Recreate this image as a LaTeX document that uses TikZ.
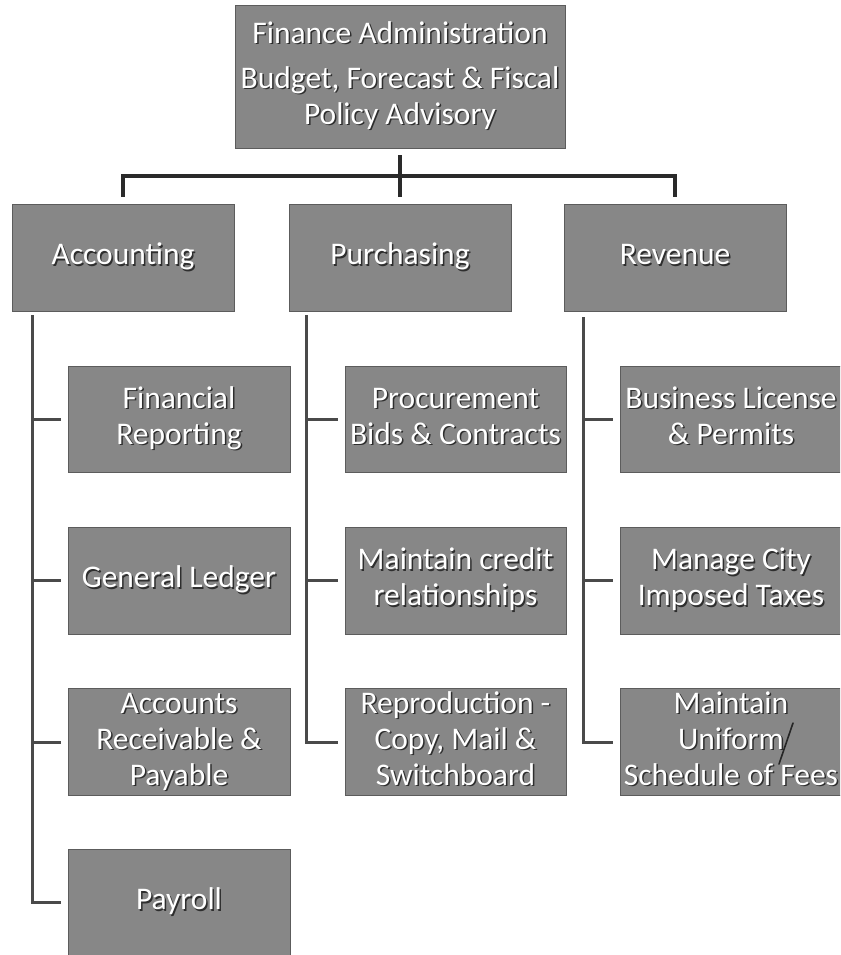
\documentclass[tikz,border=0pt]{standalone}
\usepackage{fontspec}
\setmainfont{Carlito}
\usetikzlibrary{calc}

\definecolor{boxgray}{HTML}{878787}
\definecolor{boxedge}{HTML}{5C5C5C}
\definecolor{txtshadow}{HTML}{2E2E2E}
\definecolor{linegray}{HTML}{4A4A4A}
\definecolor{buslinegray}{HTML}{2A2A2A}

\tikzset{
  orgfill/.style={rectangle, fill=boxgray, draw=boxedge, line width=0.9pt,
    inner sep=0pt, outer sep=0pt},
  orgtext/.style={align=center, inner sep=0pt, outer sep=0pt,
    font=\fontsize{31.5}{36}\selectfont},
  conn/.style={draw=linegray, line width=3pt},
  busconn/.style={draw=buslinegray, line width=3.5pt},
  penmark/.style={draw=black!85, line width=1.6pt, line cap=round},
}

% box with white text and a dark drop shadow:
% name, centre x, centre y, width, height, text
\newcommand\orgbox[6]{%
  \node[orgfill, minimum width=#4pt, minimum height=#5pt] (#1) at (#2,#3) {};
  \node[orgtext, text=txtshadow] (#1-s) at ([shift={(1.5pt,-1.5pt)}]#1.center) {\strut#6\strut};
  \node[orgtext, text=white] (#1-t) at (#1.center) {\strut#6\strut};
}

\begin{document}
\begin{tikzpicture}[x=1pt, y=-1pt]
  \useasboundingbox (0,0) rectangle (840,955);
  \clip (0,0) rectangle (840,955);

  % head of department
  \orgbox{head}{400}{76.5}{330}{143}{Finance Administration\\[9pt]Budget, Forecast \& Fiscal\\Policy Advisory}

  % divisions
  \orgbox{acct}{123}{257.5}{222}{107}{Accounting}
  \orgbox{purch}{400}{257.5}{222}{107}{Purchasing}
  \orgbox{rev}{675}{257.5}{222}{107}{Revenue}

  % accounting sections
  \orgbox{finrep}{179}{419}{222}{106}{Financial\\Reporting}
  \orgbox{ledger}{179}{580.5}{222}{107}{General Ledger}
  \orgbox{arap}{179}{742}{222}{107}{Accounts\\Receivable \&\\Payable}
  \orgbox{payroll}{179}{902.5}{222}{106}{Payroll}

  % purchasing sections
  \orgbox{procure}{455.5}{419}{221}{106}{Procurement\\Bids \& Contracts}
  \orgbox{credit}{455.5}{580.5}{221}{107}{Maintain credit\\relationships}
  \orgbox{repro}{455.5}{742}{221}{107}{Reproduction -\\Copy, Mail \&\\Switchboard}

  % revenue sections
  \orgbox{license}{731}{419}{222}{106}{Business License\\\& Permits}
  \orgbox{taxes}{731}{580.5}{222}{107}{Manage City\\Imposed Taxes}
  \orgbox{fees}{731}{742}{222}{107}{Maintain\\Uniform\\Schedule of Fees}

  % pen stroke across the fee schedule box
  \draw[penmark] (793,723) -- (779,764);

  % connectors from the head to the divisions
  \coordinate (bus) at (400,176);
  \draw[busconn, shorten <=7pt, shorten >=7pt] (head.south) -- (purch.north);
  \draw[busconn, shorten >=7pt] (bus) -| (acct.north);
  \draw[busconn, shorten >=7pt] (bus) -| (rev.north);

  % spines under each division
  \coordinate (spineA) at (32,315);
  \coordinate (spineP) at (306,315);
  \coordinate (spineR) at (583,317);

  \draw[conn, shorten >=7pt] (spineA) |- (payroll.west);
  \draw[conn, shorten >=7pt] (spineA |- finrep.west) -- (finrep.west);
  \draw[conn, shorten >=7pt] (spineA |- ledger.west) -- (ledger.west);
  \draw[conn, shorten >=7pt] (spineA |- arap.west) -- (arap.west);

  \draw[conn, shorten >=7pt] (spineP) |- (repro.west);
  \draw[conn, shorten >=7pt] (spineP |- procure.west) -- (procure.west);
  \draw[conn, shorten >=7pt] (spineP |- credit.west) -- (credit.west);

  \draw[conn, shorten >=7pt] (spineR) |- (fees.west);
  \draw[conn, shorten >=7pt] (spineR |- license.west) -- (license.west);
  \draw[conn, shorten >=7pt] (spineR |- taxes.west) -- (taxes.west);
\end{tikzpicture}
\end{document}
